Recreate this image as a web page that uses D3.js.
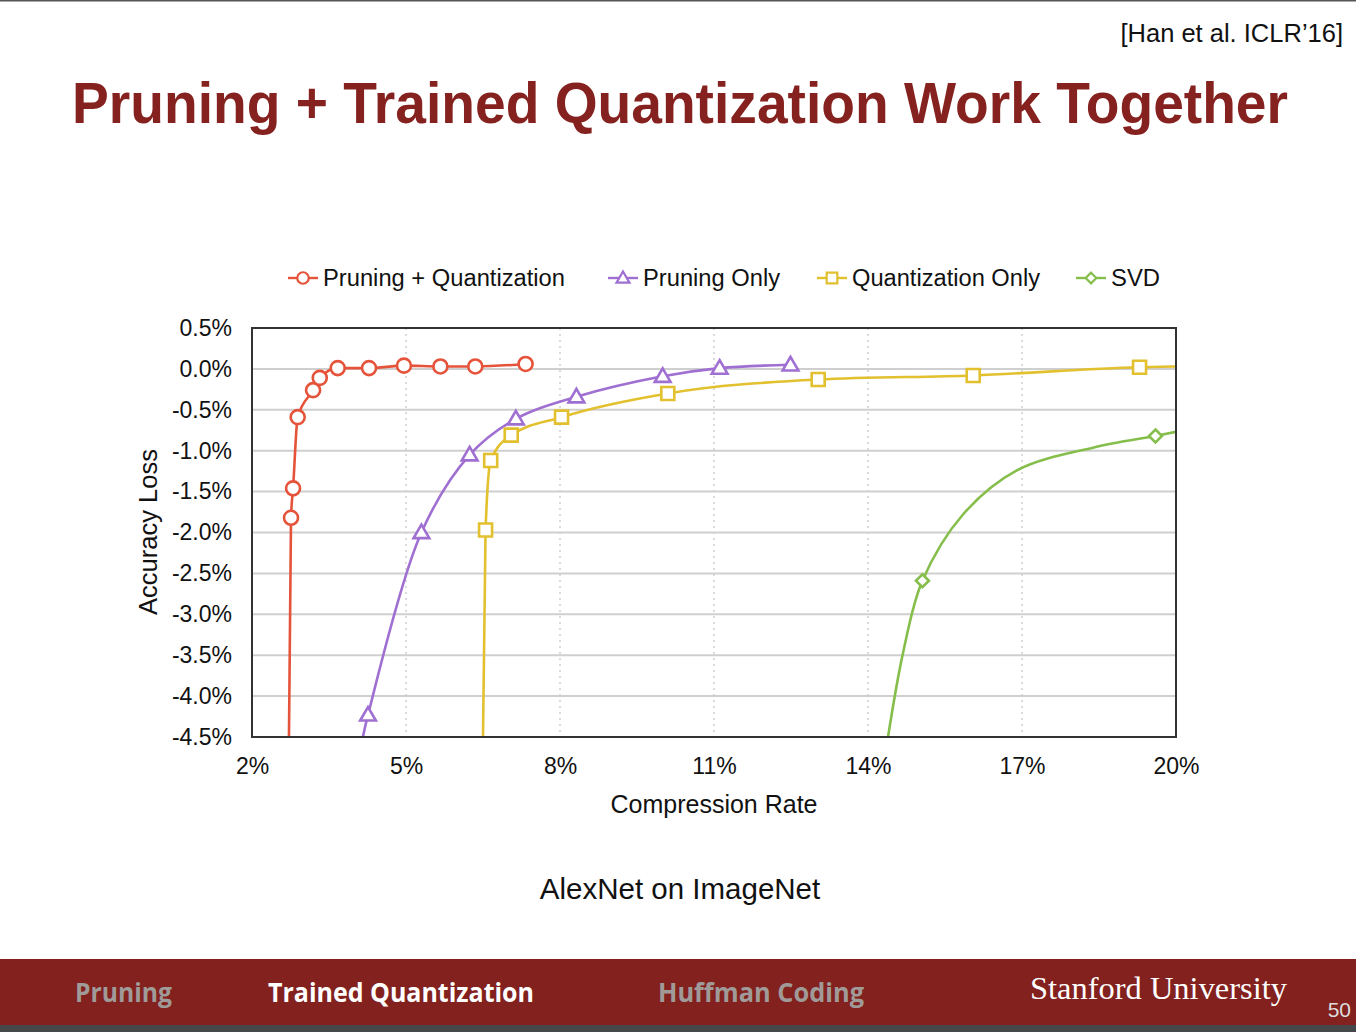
<!DOCTYPE html>
<html>
<head>
<meta charset="utf-8">
<script src="https://cdnjs.cloudflare.com/ajax/libs/d3/7.8.5/d3.min.js"></script>
<style>
  html, body { margin: 0; padding: 0; background: #fff; }
  svg { display: block; }
</style>
</head>
<body>
<div id="chart"></div>
<script>
// ---- data ----
const xTicks = [2, 5, 8, 11, 14, 17, 20];
const yTicks = [0.5, 0.0, -0.5, -1.0, -1.5, -2.0, -2.5, -3.0, -3.5, -4.0, -4.5];

// Pruning + Quantization
const pqRate = [2.76, 2.80, 2.89, 3.19, 3.32, 3.67, 4.28, 4.96, 5.67, 6.35, 7.33];
const pqLoss = [-1.82, -1.46, -0.59, -0.26, -0.11, 0.01, 0.01, 0.04, 0.03, 0.03, 0.06];
const pqLineRate = [2.72, ...pqRate];
const pqLineLoss = [-4.5, ...pqLoss];

// Pruning Only
const prRate = [4.26, 5.30, 6.24, 7.14, 8.32, 10.0, 11.11, 12.49];
const prLoss = [-4.23, -2.0, -1.05, -0.61, -0.34, -0.09, 0.01, 0.05];
const prLineRate = [4.16, ...prRate];
const prLineLoss = [-4.5, ...prLoss];

// Quantization Only
const qoRate = [6.55, 6.65, 7.05, 8.03, 10.1, 13.03, 16.05, 19.29];
const qoLoss = [-1.97, -1.12, -0.81, -0.59, -0.30, -0.13, -0.08, 0.02];
const qoLineRate = [6.50, ...qoRate, 20.0];
const qoLineLoss = [-4.5, ...qoLoss, 0.03];

// SVD
const svdRate = [15.06, 19.6];
const svdLoss = [-2.59, -0.82];
const svdLineRate = [14.39, 14.69, 15.06, 15.85, 16.9, 18.4, 19.6, 20.0];
const svdLineLoss = [-4.5, -3.45, -2.59, -1.78, -1.24, -0.96, -0.82, -0.77];

const seriesNames = ['Pruning + Quantization', 'Pruning Only', 'Quantization Only', 'SVD'];
const seriesColors = ['#e5533b', '#a06fd2', '#e2c02e', '#86be4c'];
const seriesShapes = ['circle', 'triangle', 'square', 'diamond'];
const seriesCurves = [d3.curveMonotoneX, d3.curveCatmullRom.alpha(0.5), d3.curveMonotoneX, d3.curveCatmullRom.alpha(0.5)];

const W = 1356, H = 1032;
const plot = { left: 252, right: 1176, top: 328, bottom: 737 };

const svg = d3.select('#chart').append('svg')
  .attr('width', W).attr('height', H)
  .style('font-family', '"Liberation Sans", Arial, sans-serif');

// top border line
svg.append('rect').attr('x', 0).attr('y', 0).attr('width', W).attr('height', 1.5).attr('fill', '#555');

// citation
svg.append('text')
  .attr('x', 1343).attr('y', 42)
  .attr('text-anchor', 'end')
  .attr('font-size', 25.5)
  .attr('fill', '#111')
  .text('[Han et al. ICLR\u201916]');

// title
svg.append('text')
  .attr('x', 72).attr('y', 123)
  .attr('font-size', 57)
  .attr('font-weight', 'bold')
  .attr('fill', '#85211e')
  .attr('textLength', 1216)
  .attr('lengthAdjust', 'spacingAndGlyphs')
  .text('Pruning + Trained Quantization Work Together');

// scales
const x = d3.scaleLinear().domain([2, 20]).range([plot.left, plot.right]);
const y = d3.scaleLinear().domain([-4.5, 0.5]).range([plot.bottom, plot.top]);

// grid
const grid = svg.append('g');
grid.selectAll('.hg')
  .data(yTicks.slice(1, -1))
  .enter().append('line')
  .attr('x1', plot.left).attr('x2', plot.right)
  .attr('y1', d => y(d)).attr('y2', d => y(d))
  .attr('stroke', '#cfcfcf').attr('stroke-width', 2);

grid.selectAll('.vg')
  .data(xTicks.slice(1, -1))
  .enter().append('line')
  .attr('x1', d => x(d)).attr('x2', d => x(d))
  .attr('y1', plot.top).attr('y2', plot.bottom)
  .attr('stroke', '#cfcfcf').attr('stroke-width', 1.5)
  .attr('stroke-dasharray', '2,4');

// y axis
const yAxis = svg.append('g')
  .attr('transform', `translate(${plot.left},0)`)
  .call(d3.axisLeft(y).tickValues(yTicks).tickSize(0).tickPadding(20)
    .tickFormat(d => d.toFixed(1) + '%'));
yAxis.select('.domain').remove();
yAxis.selectAll('text')
  .attr('font-size', 23)
  .attr('fill', '#111')
  .attr('font-family', '"Liberation Sans", Arial, sans-serif');

// x axis
const xAxis = svg.append('g')
  .attr('transform', `translate(0,${plot.bottom})`)
  .call(d3.axisBottom(x).tickValues(xTicks).tickSize(0).tickPadding(21)
    .tickFormat(d => d + '%'));
xAxis.select('.domain').remove();
xAxis.selectAll('text')
  .attr('font-size', 23)
  .attr('fill', '#111')
  .attr('font-family', '"Liberation Sans", Arial, sans-serif');

// axis titles
svg.append('text')
  .attr('x', 714).attr('y', 813)
  .attr('text-anchor', 'middle')
  .attr('font-size', 25)
  .attr('fill', '#111')
  .text('Compression Rate');

svg.append('text')
  .attr('transform', 'translate(157,532) rotate(-90)')
  .attr('text-anchor', 'middle')
  .attr('font-size', 25.5)
  .attr('fill', '#111')
  .text('Accuracy Loss');

// clip
svg.append('clipPath').attr('id', 'clip')
  .append('rect')
  .attr('x', plot.left).attr('y', plot.top)
  .attr('width', plot.right - plot.left).attr('height', plot.bottom - plot.top);

const lineData = [
  d3.zip(pqLineRate, pqLineLoss),
  d3.zip(prLineRate, prLineLoss),
  d3.zip(qoLineRate, qoLineLoss),
  d3.zip(svdLineRate, svdLineLoss)
];
const markerData = [
  d3.zip(pqRate, pqLoss),
  d3.zip(prRate, prLoss),
  d3.zip(qoRate, qoLoss),
  d3.zip(svdRate, svdLoss)
];

const lines = svg.append('g').attr('clip-path', 'url(#clip)');
lineData.forEach((pts, i) => {
  const line = d3.line()
    .x(d => x(d[0]))
    .y(d => y(d[1]))
    .curve(seriesCurves[i]);
  lines.append('path')
    .attr('d', line(pts))
    .attr('fill', 'none')
    .attr('stroke', seriesColors[i])
    .attr('stroke-width', 2.6);
});

// marker shapes
const shapePath = (shape, s) => {
  if (shape === 'circle') return d3.symbol(d3.symbolCircle, Math.PI * s * s)();
  if (shape === 'triangle') return `M0,${-s * 1.05}L${s * 1.05},${s * 0.75}L${-s * 1.05},${s * 0.75}Z`;
  if (shape === 'square') return `M${-s},${-s}H${s}V${s}H${-s}Z`;
  return `M0,${-s}L${s},0L0,${s}L${-s},0Z`;
};
const markerSize = [7, 7.5, 6.5, 6.5];

markerData.forEach((pts, i) => {
  svg.append('g').selectAll('path')
    .data(pts)
    .enter().append('path')
    .attr('transform', d => `translate(${x(d[0])},${y(d[1])})`)
    .attr('d', shapePath(seriesShapes[i], markerSize[i]))
    .attr('fill', '#fff')
    .attr('stroke', seriesColors[i])
    .attr('stroke-width', 2.6);
});

// plot frame
svg.append('rect')
  .attr('x', plot.left).attr('y', plot.top)
  .attr('width', plot.right - plot.left).attr('height', plot.bottom - plot.top)
  .attr('fill', 'none')
  .attr('stroke', '#333')
  .attr('stroke-width', 2);

// legend
const legendX = [288, 608, 817, 1076];
const legendTextW = [242, 137, 188, 49];
const legend = svg.append('g').attr('transform', 'translate(0,278)');
seriesNames.forEach((name, i) => {
  const g = legend.append('g').attr('transform', `translate(${legendX[i]},0)`);
  g.append('line')
    .attr('x1', 0).attr('x2', 30)
    .attr('y1', 0).attr('y2', 0)
    .attr('stroke', seriesColors[i]).attr('stroke-width', 2.4);
  g.append('path')
    .attr('transform', 'translate(15,0)')
    .attr('d', shapePath(seriesShapes[i], markerSize[i] * 0.82))
    .attr('fill', '#fff')
    .attr('stroke', seriesColors[i])
    .attr('stroke-width', 2.2);
  g.append('text')
    .attr('x', 35).attr('y', 8)
    .attr('font-size', 23)
    .attr('fill', '#111')
    .attr('textLength', legendTextW[i])
    .attr('lengthAdjust', 'spacingAndGlyphs')
    .text(name);
});

// caption
svg.append('text')
  .attr('x', 680).attr('y', 899)
  .attr('text-anchor', 'middle')
  .attr('font-size', 29.5)
  .attr('fill', '#111')
  .text('AlexNet on ImageNet');

// footer
svg.append('rect').attr('x', 0).attr('y', 959).attr('width', W).attr('height', 66).attr('fill', '#82211e');
svg.append('rect').attr('x', 0).attr('y', 1025).attr('width', W).attr('height', 7).attr('fill', '#45474a');

const footItems = [
  { t: 'Pruning', x: 75, w: 97, c: '#a09a99' },
  { t: 'Trained Quantization', x: 268, w: 266, c: '#ffffff' },
  { t: 'Huffman Coding', x: 658, w: 206, c: '#a09a99' }
];
footItems.forEach(f => {
  svg.append('text')
    .attr('x', f.x).attr('y', 1002)
    .attr('font-family', '"Open Sans", sans-serif')
    .attr('font-weight', 'bold')
    .attr('font-size', 27)
    .attr('fill', f.c)
    .attr('textLength', f.w)
    .attr('lengthAdjust', 'spacingAndGlyphs')
    .text(f.t);
});

svg.append('text')
  .attr('x', 1030).attr('y', 999)
  .attr('font-family', '"Liberation Serif", "DejaVu Serif", serif')
  .attr('font-size', 31)
  .attr('fill', '#fff')
  .attr('textLength', 257)
  .attr('lengthAdjust', 'spacingAndGlyphs')
  .text('Stanford University');

svg.append('text')
  .attr('x', 1351).attr('y', 1017)
  .attr('text-anchor', 'end')
  .attr('font-size', 21)
  .attr('fill', '#ddd')
  .text('50');
</script>
</body>
</html>
